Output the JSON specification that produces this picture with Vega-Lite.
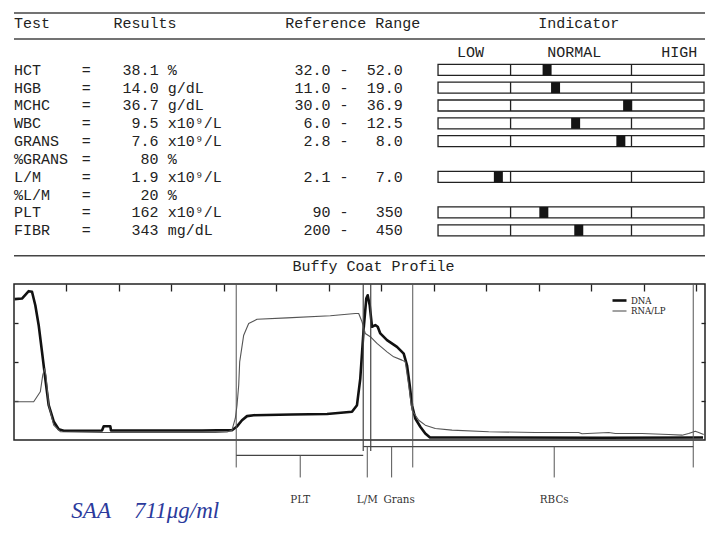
{
  "$schema": "https://vega.github.io/schema/vega-lite/v6.json",
  "background": "white",
  "padding": {"left": 12, "top": 12, "right": 0, "bottom": 0},
  "bounds": "flush",
  "spacing": 0,
  "resolve": {"scale": {"x": "independent", "y": "independent"}},
  "config": {
    "view": {"stroke": null},
    "text": {"font": "Liberation Mono", "fontSize": 15, "color": "#222", "baseline": "middle"},
    "axis": {"grid": false}
  },
  "datasets": {
    "rows": [
      {"test": "HCT", "label": "HCT", "value": "38.1", "unit": "%", "low": "32.0", "high": "52.0", "pos": 0.302},
      {"test": "HGB", "label": "HGB", "value": "14.0", "unit": "g/dL", "low": "11.0", "high": "19.0", "pos": 0.372},
      {"test": "MCHC", "label": "MCHC", "value": "36.7", "unit": "g/dL", "low": "30.0", "high": "36.9", "pos": 0.968},
      {"test": "WBC", "label": "WBC", "value": "9.5", "unit": "x10\u2079/L", "low": "6.0", "high": "12.5", "pos": 0.538},
      {"test": "GRANS", "label": "GRANS", "value": "7.6", "unit": "x10\u2079/L", "low": "2.8", "high": "8.0", "pos": 0.912},
      {"test": "%GRANS", "label": "\u00a0%GRANS", "value": "80", "unit": "%", "low": null, "high": null, "pos": null},
      {"test": "L/M", "label": "L/M", "value": "1.9", "unit": "x10\u2079/L", "low": "2.1", "high": "7.0", "pos": -0.101},
      {"test": "%L/M", "label": "\u00a0%L/M", "value": "20", "unit": "%", "low": null, "high": null, "pos": null},
      {"test": "PLT", "label": "PLT", "value": "162", "unit": "x10\u2079/L", "low": "90", "high": "350", "pos": 0.275},
      {"test": "FIBR", "label": "FIBR", "value": "343", "unit": "mg/dL", "low": "200", "high": "450", "pos": 0.564}
    ],
    "zones": [
      {"zone": "PLT", "start": 42.33, "end": 66.52, "center": 54.52},
      {"zone": "L/M", "start": 66.52, "end": 67.95, "center": 67.29},
      {"zone": "Grans", "start": 67.95, "end": 75.95, "center": 71.93},
      {"zone": "RBCs", "start": 75.95, "end": 129.38, "center": 102.9}
    ],
    "profile": [
      {"series": "DNA", "pos": 0.13, "signal": 90.3},
      {"series": "DNA", "pos": 1.52, "signal": 90.7},
      {"series": "DNA", "pos": 2.8, "signal": 95.4},
      {"series": "DNA", "pos": 3.43, "signal": 95.0},
      {"series": "DNA", "pos": 4.06, "signal": 86.4},
      {"series": "DNA", "pos": 4.7, "signal": 73.6},
      {"series": "DNA", "pos": 5.33, "signal": 56.7},
      {"series": "DNA", "pos": 5.96, "signal": 39.4},
      {"series": "DNA", "pos": 6.61, "signal": 22.3},
      {"series": "DNA", "pos": 7.56, "signal": 11.9},
      {"series": "DNA", "pos": 8.51, "signal": 6.9},
      {"series": "DNA", "pos": 9.47, "signal": 5.9},
      {"series": "DNA", "pos": 16.76, "signal": 6.1},
      {"series": "DNA", "pos": 17.09, "signal": 8.8},
      {"series": "DNA", "pos": 18.34, "signal": 8.8},
      {"series": "DNA", "pos": 18.48, "signal": 6.1},
      {"series": "DNA", "pos": 35.81, "signal": 6.1},
      {"series": "DNA", "pos": 41.52, "signal": 6.3},
      {"series": "DNA", "pos": 42.48, "signal": 8.7},
      {"series": "DNA", "pos": 43.43, "signal": 12.7},
      {"series": "DNA", "pos": 44.38, "signal": 15.3},
      {"series": "DNA", "pos": 45.66, "signal": 15.9},
      {"series": "DNA", "pos": 52.95, "signal": 16.3},
      {"series": "DNA", "pos": 59.62, "signal": 16.7},
      {"series": "DNA", "pos": 64.38, "signal": 18.1},
      {"series": "DNA", "pos": 65.33, "signal": 22.3},
      {"series": "DNA", "pos": 65.96, "signal": 39.4},
      {"series": "DNA", "pos": 66.61, "signal": 71.5},
      {"series": "DNA", "pos": 67.1, "signal": 90.7},
      {"series": "DNA", "pos": 67.37, "signal": 92.8},
      {"series": "DNA", "pos": 67.75, "signal": 86.4},
      {"series": "DNA", "pos": 68.19, "signal": 72.6},
      {"series": "DNA", "pos": 68.82, "signal": 73.6},
      {"series": "DNA", "pos": 69.28, "signal": 72.6},
      {"series": "DNA", "pos": 69.77, "signal": 68.3},
      {"series": "DNA", "pos": 71.05, "signal": 64.0},
      {"series": "DNA", "pos": 72.95, "signal": 59.7},
      {"series": "DNA", "pos": 74.23, "signal": 55.4},
      {"series": "DNA", "pos": 74.86, "signal": 47.9},
      {"series": "DNA", "pos": 75.37, "signal": 35.1},
      {"series": "DNA", "pos": 75.81, "signal": 22.3},
      {"series": "DNA", "pos": 76.44, "signal": 13.8},
      {"series": "DNA", "pos": 77.39, "signal": 8.5},
      {"series": "DNA", "pos": 78.34, "signal": 4.2},
      {"series": "DNA", "pos": 79.24, "signal": 1.6},
      {"series": "DNA", "pos": 92.95, "signal": 1.6},
      {"series": "DNA", "pos": 112.0, "signal": 1.4},
      {"series": "DNA", "pos": 131.24, "signal": 1.6},
      {"series": "RNA/LP", "pos": 0.13, "signal": 24.5},
      {"series": "RNA/LP", "pos": 3.75, "signal": 24.5},
      {"series": "RNA/LP", "pos": 4.38, "signal": 27.7},
      {"series": "RNA/LP", "pos": 5.01, "signal": 30.9},
      {"series": "RNA/LP", "pos": 5.47, "signal": 41.5},
      {"series": "RNA/LP", "pos": 5.85, "signal": 45.8},
      {"series": "RNA/LP", "pos": 6.1, "signal": 41.3},
      {"series": "RNA/LP", "pos": 6.61, "signal": 22.3},
      {"series": "RNA/LP", "pos": 7.56, "signal": 9.5},
      {"series": "RNA/LP", "pos": 8.82, "signal": 5.3},
      {"series": "RNA/LP", "pos": 16.76, "signal": 4.8},
      {"series": "RNA/LP", "pos": 38.34, "signal": 4.8},
      {"series": "RNA/LP", "pos": 40.57, "signal": 5.1},
      {"series": "RNA/LP", "pos": 41.52, "signal": 6.3},
      {"series": "RNA/LP", "pos": 42.15, "signal": 13.8},
      {"series": "RNA/LP", "pos": 42.48, "signal": 22.3},
      {"series": "RNA/LP", "pos": 42.8, "signal": 35.1},
      {"series": "RNA/LP", "pos": 42.99, "signal": 50.1},
      {"series": "RNA/LP", "pos": 43.75, "signal": 67.2},
      {"series": "RNA/LP", "pos": 44.7, "signal": 74.7},
      {"series": "RNA/LP", "pos": 46.29, "signal": 77.4},
      {"series": "RNA/LP", "pos": 52.0, "signal": 78.3},
      {"series": "RNA/LP", "pos": 60.25, "signal": 79.6},
      {"series": "RNA/LP", "pos": 65.01, "signal": 81.1},
      {"series": "RNA/LP", "pos": 65.66, "signal": 81.1},
      {"series": "RNA/LP", "pos": 66.29, "signal": 75.8},
      {"series": "RNA/LP", "pos": 66.91, "signal": 68.3},
      {"series": "RNA/LP", "pos": 67.87, "signal": 66.2},
      {"series": "RNA/LP", "pos": 69.14, "signal": 61.9},
      {"series": "RNA/LP", "pos": 71.05, "signal": 56.5},
      {"series": "RNA/LP", "pos": 72.32, "signal": 53.3},
      {"series": "RNA/LP", "pos": 73.9, "signal": 51.2},
      {"series": "RNA/LP", "pos": 74.53, "signal": 50.1},
      {"series": "RNA/LP", "pos": 75.18, "signal": 35.1},
      {"series": "RNA/LP", "pos": 75.81, "signal": 19.1},
      {"series": "RNA/LP", "pos": 77.09, "signal": 12.7},
      {"series": "RNA/LP", "pos": 78.34, "signal": 9.5},
      {"series": "RNA/LP", "pos": 80.25, "signal": 7.4},
      {"series": "RNA/LP", "pos": 83.43, "signal": 6.3},
      {"series": "RNA/LP", "pos": 90.42, "signal": 5.3},
      {"series": "RNA/LP", "pos": 99.24, "signal": 4.8},
      {"series": "RNA/LP", "pos": 107.56, "signal": 4.8},
      {"series": "RNA/LP", "pos": 108.19, "signal": 4.0},
      {"series": "RNA/LP", "pos": 113.28, "signal": 4.8},
      {"series": "RNA/LP", "pos": 114.53, "signal": 4.2},
      {"series": "RNA/LP", "pos": 119.62, "signal": 4.2},
      {"series": "RNA/LP", "pos": 124.7, "signal": 3.5},
      {"series": "RNA/LP", "pos": 127.24, "signal": 3.1},
      {"series": "RNA/LP", "pos": 128.51, "signal": 4.2},
      {"series": "RNA/LP", "pos": 129.77, "signal": 5.6},
      {"series": "RNA/LP", "pos": 130.42, "signal": 4.8},
      {"series": "RNA/LP", "pos": 131.37, "signal": 3.5}
    ]
  },
  "vconcat": [
    {
      "width": 691,
      "height": 26,
      "data": {"values": [{}]},
      "layer": [
        {"mark": {"type": "rule", "color": "#444", "strokeWidth": 1.6},
         "encoding": {"y": {"datum": 1, "type": "quantitative", "scale": {"domain": [0, 1], "nice": false}, "axis": null}}},
        {"mark": {"type": "rule", "color": "#444", "strokeWidth": 1.6},
         "encoding": {"y": {"datum": 0, "type": "quantitative", "axis": null}}},
        {"mark": {"type": "text", "align": "left"},
         "encoding": {"x": {"datum": 0, "type": "quantitative", "scale": {"domain": [0, 76.44], "nice": false}, "axis": null},
                      "y": {"datum": 0.604, "type": "quantitative", "axis": null}, "text": {"value": "Test"}}},
        {"mark": {"type": "text", "align": "left"},
         "encoding": {"x": {"datum": 11, "type": "quantitative", "axis": null},
                      "y": {"datum": 0.604, "type": "quantitative", "axis": null}, "text": {"value": "Results"}}},
        {"mark": {"type": "text", "align": "left"},
         "encoding": {"x": {"datum": 30, "type": "quantitative", "axis": null},
                      "y": {"datum": 0.604, "type": "quantitative", "axis": null}, "text": {"value": "Reference Range"}}},
        {"mark": {"type": "text", "align": "left"},
         "encoding": {"x": {"datum": 58, "type": "quantitative", "axis": null},
                      "y": {"datum": 0.604, "type": "quantitative", "axis": null}, "text": {"value": "Indicator"}}}
      ]
    },
    {
      "width": 691,
      "height": 244.5,
      "data": {"name": "rows"},
      "encoding": {
        "y": {"field": "test", "type": "nominal",
              "scale": {"type": "point", "domain": ["scale", "HCT", "HGB", "MCHC", "WBC", "GRANS", "%GRANS", "L/M", "%L/M", "PLT", "FIBR"], "range": [13, 191.3], "padding": 0},
              "axis": null}
      },
      "resolve": {"scale": {"x": "independent"}},
      "layer": [
        {
          "layer": [
            {"mark": {"type": "text", "align": "left"},
             "encoding": {"x": {"datum": 0, "type": "quantitative", "scale": {"domain": [0, 76.44], "nice": false}, "axis": null},
                          "text": {"field": "label"}}},
            {"mark": {"type": "text", "align": "center"},
             "encoding": {"x": {"datum": 8.0, "type": "quantitative", "scale": {"domain": [0, 76.44], "nice": false}, "axis": null},
                          "text": {"value": "="}}},
            {"mark": {"type": "text", "align": "right"},
             "encoding": {"x": {"datum": 16, "type": "quantitative", "scale": {"domain": [0, 76.44], "nice": false}, "axis": null},
                          "text": {"field": "value"}}},
            {"mark": {"type": "text", "align": "left"},
             "encoding": {"x": {"datum": 17, "type": "quantitative", "scale": {"domain": [0, 76.44], "nice": false}, "axis": null},
                          "text": {"field": "unit"}}},
            {"transform": [{"filter": "isValid(datum.low)"}],
             "mark": {"type": "text", "align": "right"},
             "encoding": {"x": {"datum": 35, "type": "quantitative", "scale": {"domain": [0, 76.44], "nice": false}, "axis": null},
                          "text": {"field": "low"}}},
            {"transform": [{"filter": "isValid(datum.low)"}],
             "mark": {"type": "text", "align": "center"},
             "encoding": {"x": {"datum": 36.5, "type": "quantitative", "scale": {"domain": [0, 76.44], "nice": false}, "axis": null},
                          "text": {"value": "-"}}},
            {"transform": [{"filter": "isValid(datum.high)"}],
             "mark": {"type": "text", "align": "right"},
             "encoding": {"x": {"datum": 43, "type": "quantitative", "scale": {"domain": [0, 76.44], "nice": false}, "axis": null},
                          "text": {"field": "high"}}},
            {"data": {"values": [{}]},
             "mark": {"type": "text", "align": "left"},
             "encoding": {"x": {"datum": 49, "type": "quantitative", "scale": {"domain": [0, 76.44], "nice": false}, "axis": null},
                          "y": {"datum": "scale", "type": "nominal"},
                          "text": {"value": "LOW"}}},
            {"data": {"values": [{}]},
             "mark": {"type": "text", "align": "left"},
             "encoding": {"x": {"datum": 59, "type": "quantitative", "scale": {"domain": [0, 76.44], "nice": false}, "axis": null},
                          "y": {"datum": "scale", "type": "nominal"},
                          "text": {"value": "NORMAL"}}},
            {"data": {"values": [{}]},
             "mark": {"type": "text", "align": "left"},
             "encoding": {"x": {"datum": 71.6, "type": "quantitative", "scale": {"domain": [0, 76.44], "nice": false}, "axis": null},
                          "y": {"datum": "scale", "type": "nominal"},
                          "text": {"value": "HIGH"}}}
          ]
        },
        {
          "transform": [{"filter": "isValid(datum.pos)"}],
          "layer": [
            {"mark": {"type": "bar", "size": 11, "fill": "white", "stroke": "#222", "strokeWidth": 1.3},
             "encoding": {"x": {"datum": -0.6, "type": "quantitative", "scale": {"domain": [-4.107, 1.608], "nice": false, "zero": false}, "axis": null},
                          "x2": {"datum": 1.6}}},
            {"mark": {"type": "tick", "size": 11, "thickness": 1.3, "color": "#222", "opacity": 1},
             "encoding": {"x": {"datum": 0, "type": "quantitative", "scale": {"domain": [-4.107, 1.608], "nice": false, "zero": false}, "axis": null}}},
            {"mark": {"type": "tick", "size": 11, "thickness": 1.3, "color": "#222", "opacity": 1},
             "encoding": {"x": {"datum": 1, "type": "quantitative", "scale": {"domain": [-4.107, 1.608], "nice": false, "zero": false}, "axis": null}}},
            {"mark": {"type": "tick", "size": 11, "thickness": 9, "color": "#151515", "opacity": 1},
             "encoding": {"x": {"field": "pos", "type": "quantitative", "scale": {"domain": [-4.107, 1.608], "nice": false, "zero": false}, "axis": null}}}
          ]
        }
      ]
    },
    {
      "width": 691,
      "height": 156,
      "view": {"stroke": "#222", "strokeWidth": 1.5},
      "resolve": {"axis": {"y": "independent"}},
      "layer": [
        {"data": {"name": "profile"},
         "mark": {"type": "line", "strokeJoin": "round"},
         "encoding": {
           "x": {"field": "pos", "type": "quantitative",
                 "scale": {"domain": [0, 131.62], "nice": false, "zero": false},
                 "axis": {"orient": "top", "values": [10, 20, 30, 40, 50, 60, 70, 80, 90, 100, 110, 120, 130], "tickSize": -7, "tickColor": "#222", "tickWidth": 1.3, "labels": false, "domain": false, "grid": false, "title": null}},
           "y": {"field": "signal", "type": "quantitative",
                 "scale": {"domain": [0, 100], "nice": false},
                 "axis": {"orient": "left", "values": [25, 50, 75], "tickSize": -4, "tickColor": "#222", "tickWidth": 1.3, "labels": false, "domain": false, "grid": false, "title": null}},
           "color": {"field": "series", "type": "nominal",
                     "scale": {"domain": ["DNA", "RNA/LP"], "range": ["#111111", "#555555"]},
                     "legend": {"orient": "none", "legendX": 600, "legendY": 282, "title": null, "symbolType": "M-1.75,0H1.75", "symbolSize": 64, "labelFont": "DejaVu Serif Condensed, Liberation Serif", "labelFontSize": 9.5, "labelColor": "#222", "rowPadding": 0, "labelOffset": 6, "padding": 0}},
           "strokeWidth": {"field": "series", "type": "nominal",
                           "scale": {"domain": ["DNA", "RNA/LP"], "range": [2.6, 1.1]},
                           "legend": {"orient": "none", "legendX": 600, "legendY": 282, "title": null, "symbolType": "M-1.75,0H1.75", "symbolSize": 64, "labelFont": "DejaVu Serif Condensed, Liberation Serif", "labelFontSize": 9.5, "labelColor": "#222", "rowPadding": 0, "labelOffset": 6, "padding": 0}}
         }},
        {"data": {"values": [{}]},
         "mark": {"type": "rule", "color": "#444", "strokeWidth": 1.6},
         "encoding": {"y": {"datum": 118.1, "type": "quantitative", "axis": null}}},
        {"data": {"values": [{}]},
         "mark": {"type": "text", "align": "center"},
         "encoding": {"x": {"datum": 68.47, "type": "quantitative"},
                      "y": {"datum": 111.4, "type": "quantitative", "axis": null},
                      "text": {"value": "Buffy Coat Profile"}}},
        {"data": {"name": "zones"},
         "transform": [{"filter": "datum.zone === 'PLT' || datum.zone === 'RBCs'"}],
         "mark": {"type": "rule", "color": "#555", "strokeWidth": 1},
         "encoding": {"x": {"field": "start", "type": "quantitative"},
                      "y": {"datum": 100, "type": "quantitative",
                            "axis": {"orient": "right", "values": [25, 50, 75], "tickSize": -4, "tickColor": "#222", "tickWidth": 1.3, "labels": false, "domain": false, "grid": false, "title": null}},
                      "y2": {"datum": -17.6}}},
        {"data": {"name": "zones"},
         "transform": [{"filter": "datum.zone === 'RBCs'"}],
         "mark": {"type": "rule", "color": "#555", "strokeWidth": 1},
         "encoding": {"x": {"field": "end", "type": "quantitative"},
                      "y": {"datum": 100, "type": "quantitative", "axis": null},
                      "y2": {"datum": -17.6}}},
        {"data": {"name": "zones"},
         "transform": [{"filter": "datum.zone === 'L/M' || datum.zone === 'Grans'"}],
         "mark": {"type": "rule", "color": "#444", "strokeWidth": 1.2},
         "encoding": {"x": {"field": "start", "type": "quantitative"},
                      "y": {"datum": 100, "type": "quantitative", "axis": null},
                      "y2": {"datum": -7}}},
        {"data": {"name": "zones"},
         "transform": [{"filter": "datum.zone === 'PLT'"}],
         "mark": {"type": "rule", "color": "#444", "strokeWidth": 1.2},
         "encoding": {"x": {"field": "start", "type": "quantitative"},
                      "x2": {"field": "end"},
                      "y": {"datum": -9.9, "type": "quantitative", "axis": null}}},
        {"data": {"name": "zones"},
         "transform": [{"filter": "datum.zone !== 'PLT'"}],
         "mark": {"type": "rule", "color": "#444", "strokeWidth": 1.2},
         "encoding": {"x": {"field": "start", "type": "quantitative"},
                      "x2": {"field": "end"},
                      "y": {"datum": -4.2, "type": "quantitative", "axis": null}}},
        {"data": {"name": "zones"},
         "transform": [{"filter": "datum.zone === 'PLT'"}],
         "mark": {"type": "rule", "color": "#555", "strokeWidth": 1},
         "encoding": {"x": {"field": "center", "type": "quantitative"},
                      "y": {"datum": -9.9, "type": "quantitative", "axis": null},
                      "y2": {"datum": -24}}},
        {"data": {"name": "zones"},
         "transform": [{"filter": "datum.zone !== 'PLT'"}],
         "mark": {"type": "rule", "color": "#555", "strokeWidth": 1},
         "encoding": {"x": {"field": "center", "type": "quantitative"},
                      "y": {"datum": -4.2, "type": "quantitative", "axis": null},
                      "y2": {"datum": -24}}},
        {"data": {"name": "zones"},
         "transform": [{"filter": "datum.zone !== 'Grans'"}],
         "mark": {"type": "text", "font": "DejaVu Serif Condensed, Liberation Serif", "fontSize": 11.5, "color": "#333", "align": "center"},
         "encoding": {"x": {"field": "center", "type": "quantitative"},
                      "y": {"datum": -38.4, "type": "quantitative", "axis": null},
                      "text": {"field": "zone"}}},
        {"data": {"name": "zones"},
         "transform": [{"filter": "datum.zone === 'Grans'"}],
         "mark": {"type": "text", "font": "DejaVu Serif Condensed, Liberation Serif", "fontSize": 11.5, "color": "#333", "align": "center", "dx": 7.5},
         "encoding": {"x": {"field": "center", "type": "quantitative"},
                      "y": {"datum": -38.4, "type": "quantitative", "axis": null},
                      "text": {"field": "zone"}}},
        {"data": {"values": [{}]},
         "mark": {"type": "text", "font": "Liberation Serif", "fontStyle": "italic", "fontSize": 23, "color": "#2b3a9c", "align": "center"},
         "encoding": {"x": {"datum": 25.0, "type": "quantitative"},
                      "y": {"datum": -45.4, "type": "quantitative", "axis": null},
                      "text": {"value": "SAA\u00a0\u00a0\u00a0\u00a0711\u03bcg/ml"}}}
      ]
    }
  ]
}
